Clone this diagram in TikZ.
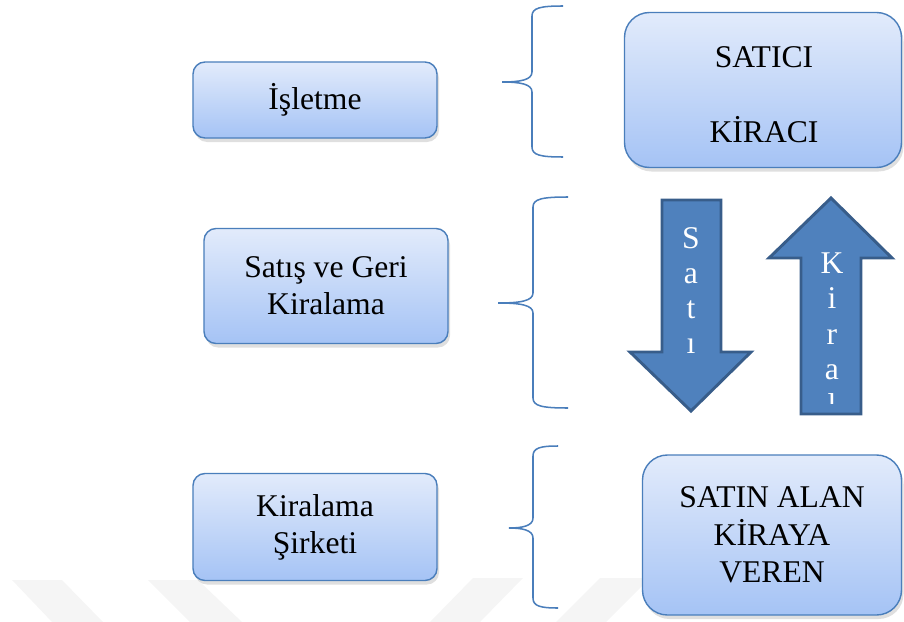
\documentclass[tikz,border=0pt]{standalone}
\usepackage{fontspec}
\setmainfont{Liberation Serif}
\usetikzlibrary{shadows}
\definecolor{boxtop}{HTML}{E2EBFB}
\definecolor{boxbot}{HTML}{A5C3F5}
\definecolor{boxedge}{HTML}{4A7EBB}
\definecolor{arrfill}{HTML}{4F81BD}
\definecolor{arredge}{HTML}{385D8A}

\begin{document}
\begin{tikzpicture}[x=0.03cm,y=-0.03cm,
		box/.style={draw=boxedge,line width=1.2pt,rounded corners=0.36cm,top color=boxtop,bottom color=boxbot,
			drop shadow={opacity=0.25,shadow xshift=0.06cm,shadow yshift=-0.12cm},align=center,
			font=\fontsize{27}{31.5}\selectfont},
		bigbox/.style={box,rounded corners=0.75cm},
		boxtext/.style={font=\fontsize{27}{30}\selectfont},
		bracket/.style={draw=boxedge,line width=1.3pt},
		blockarrow/.style={fill=arrfill,draw=arredge,line width=2.5pt,line join=miter},
		arrtext/.style={text=white,anchor=base,inner sep=0pt,font=\fontsize{27}{30}\selectfont},
		wmark/.style={fill=black!4,draw=none}]
		\useasboundingbox (0,0) rectangle (904,622);
		% faint background marks
		\fill[wmark] (12,580) -- (62,580) -- (103,622) -- (52,622) -- cycle;
		\fill[wmark] (148,580) -- (198,580) -- (242,622) -- (190,622) -- cycle;
		\fill[wmark] (473,578) -- (523,578) -- (480,622) -- (430,622) -- cycle;
		\fill[wmark] (600,578) -- (650,578) -- (606,622) -- (556,622) -- cycle;
		% left boxes
		\node[box,minimum width=7.32cm,minimum height=2.28cm] (isletme) at (315,100) {İşletme};
		\node[box,minimum width=7.32cm,minimum height=3.45cm] (geri) at (326,286) {Satış ve Geri\\Kiralama};
		\node[box,minimum width=7.32cm,minimum height=3.21cm] (sirket) at (315,527) {Kiralama\\Şirketi};
		% right boxes
		\node[bigbox,minimum width=8.31cm,minimum height=4.65cm] (kiraci) at (763,90) {};
		\node[boxtext] (satici-t) at (764,57) {SATICI};
		\node[boxtext] (kiraci-t) at (764,130) {KİRACI};
		\node[bigbox,minimum width=7.77cm,minimum height=4.8cm,font=\fontsize{27}{32}\selectfont] (veren) at (772,535) {SATIN ALAN\\KİRAYA\\VEREN};
		% brackets
		\draw[bracket] (563,6) .. controls (540,6) and (532,8) .. (532,16) -- (532,72)
			.. controls (532,80) and (520,82) .. (502,82)
			.. controls (520,82) and (532,84) .. (532,92) -- (532,147)
			.. controls (532,155) and (540,157) .. (563,157);
		\draw[bracket] (568,197) .. controls (542,197) and (533,199) .. (533,207) -- (533,293)
			.. controls (533,301) and (520,303) .. (498,303)
			.. controls (520,303) and (533,305) .. (533,313) -- (533,398)
			.. controls (533,406) and (542,408) .. (568,408);
		\draw[bracket] (558,446) .. controls (540,446) and (533,448) .. (533,456) -- (533,518)
			.. controls (533,526) and (522,528) .. (509,528)
			.. controls (522,528) and (533,530) .. (533,538) -- (533,598)
			.. controls (533,606) and (540,608) .. (558,608);
		% block arrows
		\draw[blockarrow] (662,200) -- (721,200) -- (721,352) -- (751,352) -- (691,411) -- (630,352) -- (662,352) -- cycle;
		\draw[blockarrow] (831,198) -- (892,258) -- (861,258) -- (861,414) -- (801,414) -- (801,258) -- (769,258) -- cycle;
		\begin{scope}
			\clip (660,200) rectangle (724,360);
			\foreach \l [count=\i] in {S,a,t,ı,ş}
				\node[arrtext] at (691,{248+35*(\i-1)}) {\l};
		\end{scope}
		\begin{scope}
			\clip (800,250) rectangle (862,403);
			\foreach \l [count=\i] in {K,i,r,a,l}
				\node[arrtext] at (832,{273+35.5*(\i-1)}) {\l};
		\end{scope}
	\end{tikzpicture}
\end{document}
